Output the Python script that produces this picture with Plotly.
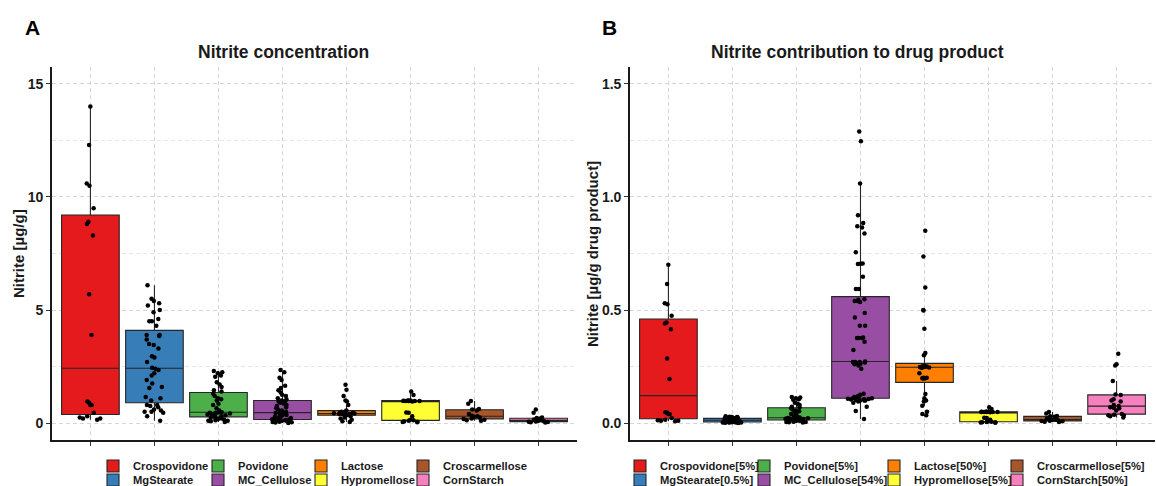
import plotly.graph_objects as go

W, H = 1156, 486
FONT = "Liberation Sans, Arial, sans-serif"

cats_A = ["Crospovidone", "MgStearate", "Povidone", "MC_Cellulose",
          "Lactose", "Hypromellose", "Croscarmellose", "CornStarch"]
cats_B = ["Crospovidone[5%]", "MgStearate[0.5%]", "Povidone[5%]", "MC_Cellulose[54%]",
          "Lactose[50%]", "Hypromellose[5%]", "Croscarmellose[5%]", "CornStarch[50%]"]
colors = ["#E41A1C", "#377EB8", "#4DAF4A", "#984EA3",
          "#FF7F00", "#FFFF33", "#A65628", "#F781BF"]

# ---- Panel A: nitrite concentration [ug/g] ----
crosp_A = [14.0, 12.3, 10.6, 10.5, 9.5, 8.9, 8.8, 8.3, 5.7, 3.9, 0.95, 0.9, 0.8, 0.8,
           0.45, 0.3, 0.25, 0.2, 0.2, 0.15]
mgst_A = [6.1, 5.5, 5.4, 5.3, 5.2, 5.0, 4.9, 4.6, 4.5, 4.5, 4.3, 3.9, 3.9, 3.85, 3.7,
          3.5, 3.45, 3.3, 2.95, 2.9, 2.7, 2.45, 2.4, 2.35, 2.2, 2.1, 1.9, 1.75, 1.6,
          1.55, 1.15, 1.1, 1.0, 0.8, 0.8, 0.75, 0.7, 0.6, 0.55, 0.5, 0.5, 0.45, 0.3, 0.1]
pov_A = [0.05, 0.08, 0.1, 0.1, 0.12, 0.15, 0.18, 0.2, 0.22, 0.25, 0.3, 0.32, 0.35,
         0.38, 0.4, 0.42, 0.44, 0.45, 0.46, 0.47, 0.48, 0.55, 0.65, 0.8, 0.85, 1.0,
         1.05, 1.1, 1.2, 1.3, 1.4, 1.45, 1.6, 1.7, 1.8, 2.05, 2.1, 2.2, 2.25, 2.3]
mcc_A = [0.0, 0.02, 0.03, 0.05, 0.06, 0.08, 0.1, 0.1, 0.12, 0.13, 0.14, 0.15, 0.16,
         0.17, 0.2, 0.22, 0.25, 0.28, 0.3, 0.33, 0.36, 0.4, 0.42, 0.44, 0.45, 0.47,
         0.5, 0.55, 0.6, 0.65, 0.7, 0.75, 0.8, 0.85, 0.9, 0.95, 0.97, 1.0, 1.05, 1.1,
         1.2, 1.25, 1.35, 1.45, 1.55, 1.65, 1.9, 2.0, 2.25, 2.35]
lac_A = [0.05, 0.08, 0.15, 0.2, 0.25, 0.3, 0.35, 0.37, 0.38, 0.4, 0.4, 0.41, 0.42,
         0.43, 0.45, 0.46, 0.48, 0.5, 0.5, 0.55, 0.8, 0.95, 1.0, 1.2, 1.47, 1.69]
hyp_A = [0.03, 0.05, 0.06, 0.08, 0.1, 0.12, 0.15, 0.3, 0.45, 0.47, 0.95, 0.97, 0.97,
         0.98, 0.98, 0.98, 0.99, 0.99, 1.0, 1.0, 1.24, 1.39]
crc_A = [0.1, 0.12, 0.15, 0.18, 0.2, 0.25, 0.28, 0.3, 0.32, 0.4, 0.55, 0.6, 0.62,
         0.85, 0.98]
cs_A = [0.02, 0.04, 0.05, 0.06, 0.07, 0.08, 0.1, 0.12, 0.14, 0.16, 0.2, 0.22, 0.25,
        0.45, 0.6]

# ---- Panel B: nitrite contribution to drug product [ug/g drug product] ----
crosp_B = [0.70, 0.615, 0.53, 0.525, 0.475, 0.445, 0.44, 0.415, 0.285, 0.195, 0.0475,
           0.045, 0.04, 0.04, 0.0225, 0.015, 0.0125, 0.01, 0.01, 0.0075]
mgst_B = [0.0305, 0.0275, 0.027, 0.0265, 0.026, 0.025, 0.0245, 0.023, 0.0225, 0.0225,
          0.0215, 0.0195, 0.0195, 0.0193, 0.0185, 0.0175, 0.0173, 0.0165, 0.0148,
          0.0145, 0.0135, 0.0123, 0.012, 0.0118, 0.011, 0.0105, 0.0095, 0.0088, 0.008,
          0.0078, 0.0058, 0.0055, 0.005, 0.004, 0.004, 0.0038, 0.0035, 0.003, 0.0028,
          0.0025, 0.0025, 0.0023, 0.0015, 0.0005]
pov_B = [0.0025, 0.004, 0.005, 0.005, 0.006, 0.0075, 0.009, 0.01, 0.011, 0.0125,
         0.015, 0.016, 0.0175, 0.019, 0.02, 0.021, 0.022, 0.0225, 0.023, 0.0235, 0.024,
         0.0275, 0.0325, 0.04, 0.0425, 0.05, 0.0525, 0.055, 0.06, 0.065, 0.07, 0.0725,
         0.08, 0.085, 0.09, 0.1025, 0.105, 0.11, 0.1125, 0.115]
mcc_B = [0.018, 0.053, 0.072, 0.09, 0.095, 0.1, 0.1, 0.1, 0.102, 0.104, 0.105, 0.105,
         0.106, 0.108, 0.11, 0.11, 0.112, 0.115, 0.12, 0.125, 0.13, 0.24, 0.255, 0.26,
         0.262, 0.265, 0.268, 0.27, 0.27, 0.27, 0.272, 0.323, 0.36, 0.376, 0.376,
         0.376, 0.378, 0.43, 0.43, 0.467, 0.487, 0.535, 0.54, 0.54, 0.545, 0.548,
         0.593, 0.593, 0.647, 0.704, 0.705, 0.706, 0.756, 0.839, 0.865, 0.87, 0.885,
         0.919, 1.06, 1.246, 1.29]
lac_B = [0.035, 0.04, 0.05, 0.077, 0.095, 0.1, 0.11, 0.129, 0.197, 0.198, 0.198, 0.2,
         0.2, 0.22, 0.245, 0.246, 0.247, 0.248, 0.248, 0.249, 0.25, 0.25, 0.25, 0.251,
         0.252, 0.3, 0.31, 0.417, 0.498, 0.5, 0.6, 0.737, 0.851]
hyp_B = [0.0015, 0.0025, 0.003, 0.004, 0.005, 0.006, 0.0075, 0.015, 0.0225, 0.0235,
         0.0475, 0.0485, 0.0485, 0.049, 0.049, 0.049, 0.0495, 0.0495, 0.05, 0.05,
         0.062, 0.0695]
crc_B = [0.005, 0.006, 0.0075, 0.009, 0.01, 0.0125, 0.014, 0.015, 0.016, 0.02, 0.0275,
         0.03, 0.031, 0.0425, 0.049]
cs_B = [0.025, 0.03, 0.033, 0.035, 0.037, 0.04, 0.055, 0.065, 0.068, 0.07, 0.075,
        0.08, 0.095, 0.1, 0.105, 0.124, 0.126, 0.186, 0.255, 0.26, 0.306]

vals_A = [crosp_A, mgst_A, pov_A, mcc_A, lac_A, hyp_A, crc_A, cs_A]
vals_B = [crosp_B, mgst_B, pov_B, mcc_B, lac_B, hyp_B, crc_B, cs_B]

# ---- geometry (pixels) ----
PLOT_TOP, PLOT_BOT = 67, 440
A_X0, A_X1 = 52, 577
B_X0, B_X1 = 630, 1155
LEG_TEXT_A = [129, 234, 337, 439]
LEG_TEXT_B = [656, 780, 910, 1033]
LEG_ROWS = [466, 480]


def px(x):
    return x / W


def py(y):
    return 1 - y / H


fig = go.Figure()
layout_legends = {}
k = 0
for panel, cats, vals, xa, ya, text_x in [
    ("A", cats_A, vals_A, "x", "y", LEG_TEXT_A),
    ("B", cats_B, vals_B, "x2", "y2", LEG_TEXT_B),
]:
    for i, (cat, v) in enumerate(zip(cats, vals)):
        lid = "legend" if k == 0 else f"legend{k + 1}"
        fig.add_trace(go.Box(
            x=[cat] * len(v), y=v, name=cat,
            xaxis=xa, yaxis=ya, legend=lid,
            width=0.9, boxpoints="all", jitter=0.45, pointpos=0,
            whiskerwidth=0, fillcolor=colors[i],
            line=dict(color="#262626", width=1.1),
            marker=dict(color="black", size=4.5, line=dict(width=0)),
            quartilemethod="linear", hoverinfo="y",
        ))
        layout_legends[lid] = dict(
            x=px(text_x[i // 2] + 4 - 40), y=py(LEG_ROWS[i % 2]),
            xanchor="left", yanchor="middle",
            bgcolor="rgba(0,0,0,0)", borderwidth=0, itemwidth=30,
            font=dict(family=FONT, size=11.2, color="#1a1a1a", weight="bold"),
        )
        k += 1

grid_major = "#d6d6d6"
grid_minor = "#e6e6e6"
tickfont = dict(family=FONT, size=14, color="#1a1a1a", weight="bold")


def xaxis(x0, x1):
    return dict(
        domain=[px(x0), px(x1)], type="category",
        range=[-0.6, 7.6], showticklabels=False,
        ticks="outside", ticklen=4, tickwidth=1, tickcolor="#333333",
        showgrid=True, gridcolor=grid_major, griddash="4px,3px", gridwidth=1,
        showline=True, linecolor="#1a1a1a", linewidth=1.6, zeroline=False,
        fixedrange=True,
    )


def yaxis(rng, dtick, minor, fmt):
    return dict(
        domain=[py(PLOT_BOT), py(PLOT_TOP)], range=rng,
        tick0=0, dtick=dtick, tickformat=fmt, tickfont=tickfont,
        ticks="outside", ticklen=4, tickwidth=1, tickcolor="#333333",
        showgrid=True, gridcolor=grid_major, griddash="4px,3px", gridwidth=1,
        minor=dict(dtick=minor, showgrid=True, gridcolor=grid_minor,
                   griddash="4px,3px", gridwidth=1, ticks=""),
        showline=True, linecolor="#1a1a1a", linewidth=1.6, zeroline=False,
        fixedrange=True,
    )


xa1 = xaxis(A_X0, A_X1); xa1["anchor"] = "y"
xa2 = xaxis(B_X0, B_X1); xa2["anchor"] = "y2"
ya1 = yaxis([-0.75, 15.75], 5, 2.5, "d"); ya1["anchor"] = "x"
ya2 = yaxis([-0.075, 1.575], 0.5, 0.25, ".1f"); ya2["anchor"] = "x2"

bold = lambda s, c="#1a1a1a": dict(family=FONT, size=s, color=c, weight="bold")
annotations = [
    dict(text="A", x=px(32), y=py(28), font=bold(21, "black")),
    dict(text="B", x=px(609), y=py(27), font=bold(21, "black")),
    dict(text="Nitrite concentration", x=px(283), y=py(52), font=bold(17.5)),
    dict(text="Nitrite contribution to drug product", x=px(857), y=py(52), font=bold(17.5)),
    dict(text="Nitrite [µg/g]", x=px(19), y=py(254), textangle=-90, font=bold(15)),
    dict(text="Nitrite [µg/g drug product]", x=px(593), y=py(254), textangle=-90, font=bold(15)),
]
for a in annotations:
    a.update(xref="paper", yref="paper", xanchor="center", yanchor="middle",
             showarrow=False)

fig.update_layout(
    template="none",
    width=W, height=H,
    margin=dict(l=0, r=0, t=0, b=0, autoexpand=False),
    paper_bgcolor="white", plot_bgcolor="white",
    font=dict(family=FONT, color="#1a1a1a"),
    xaxis=xa1, xaxis2=xa2, yaxis=ya1, yaxis2=ya2,
    boxmode="overlay", showlegend=True,
    annotations=annotations,
    **layout_legends,
)

fig.write_html(
    "out.html",
    config={"displayModeBar": False},
    post_script="document.body.style.margin='0';document.body.style.padding='0';"
                "document.body.style.overflow='hidden';",
)
